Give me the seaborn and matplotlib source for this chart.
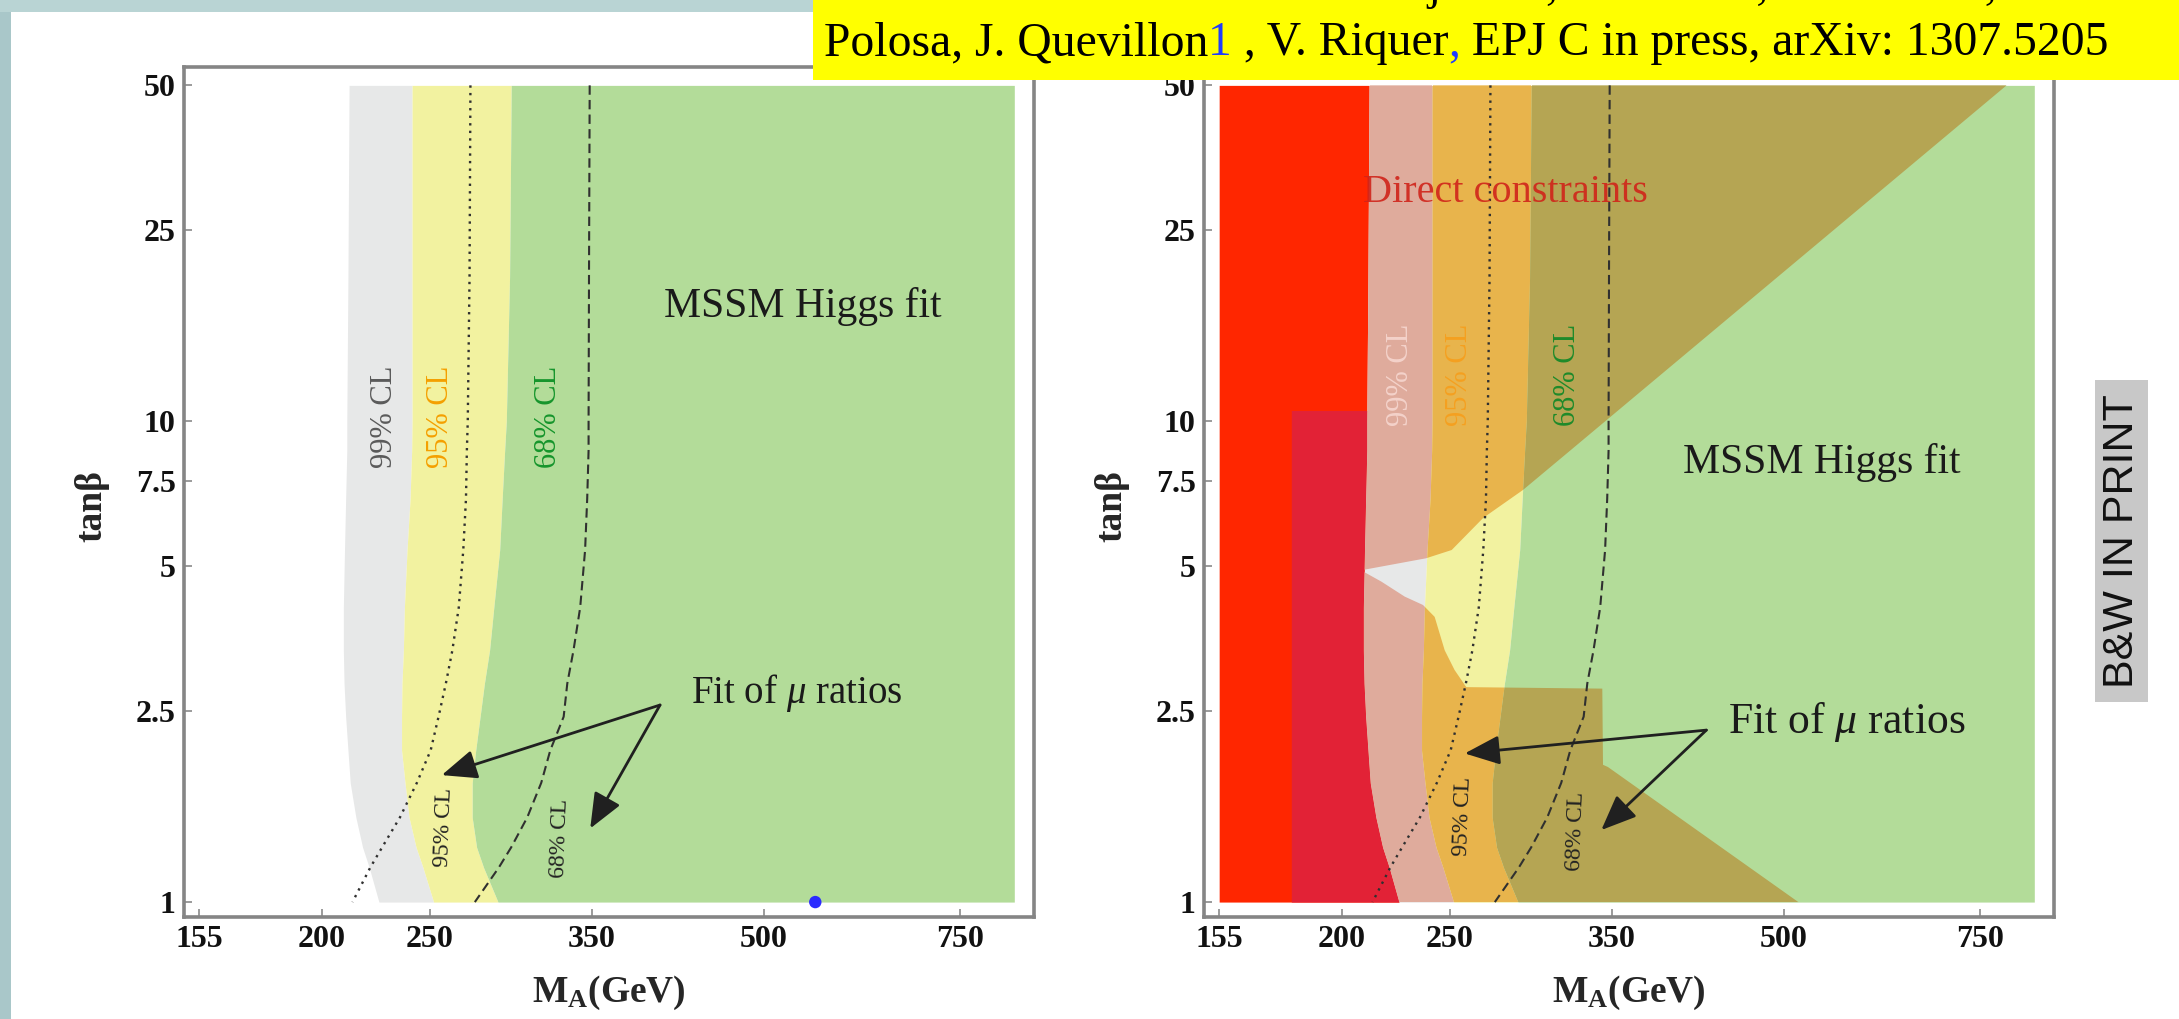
import numpy as np
import pandas as pd
import matplotlib
matplotlib.use("Agg")
import matplotlib.pyplot as plt
from matplotlib.patches import Polygon, Rectangle
import seaborn as sns

# ---------------------------------------------------------------- data
# tan(beta) grid shared by all contour boundaries (top to bottom)
TANB = [50, 20, 10, 8.7, 6.9, 5.4, 4.1, 3.34, 2.85, 2.43, 2.07, 1.77, 1.5, 1.3, 1.18, 1.0]

# M_A (GeV) where each confidence-level band starts, along TANB
CL99_LOW = [211.5, 211, 210.5, 210.5, 210, 209.5, 209, 209, 209.3, 210, 211, 212, 214.5, 217.5, 220.5, 225]
CL95_LOW = [241, 241, 241, 240.8, 240, 238.5, 237.2, 236.7, 236, 235.8, 235.8, 237.5, 239.5, 243, 246.5, 252]
CL68_LOW = [296, 295, 293, 292, 290.5, 289, 285.5, 283, 280, 277.5, 275, 273, 273, 275.5, 279.5, 288]
SCAN_MAX = 840  # upper end of the scanned M_A range

# contours of the fit of mu ratios
MU95 = [272, 271.5, 270.5, 270, 269.5, 268, 265.5, 262, 258.5, 254.6, 250.5, 243.4, 235, 226.5, 221, 213]
MU68 = [348.3, 347.8, 347.5, 347.5, 346.5, 345, 341.5, 336.8, 332.5, 330, 321, 315, 306, 296, 288.5, 274.5]

# outline of the region excluded by direct searches (M_A, tan beta)
EXCL_M = [155, 793, 321, 291, 268, 251, 238, 208, 217, 227.7, 236.5, 242.3, 247.4,
          252.5, 258.7, 343, 343.5, 347, 515, 155]
EXCL_TB = [50, 50, 8.7, 7.2, 6.3, 5.4, 5.19, 4.90, 4.64, 4.32, 4.15, 3.92, 3.34,
           3.04, 2.80, 2.78, 1.93, 1.91, 1.0, 1.0]
LEP_M = 180      # lower-tan(beta) direct limit block starts here
LEP_TB = 10.5    # and reaches up to this tan(beta)

BEST_FIT = (556, 1.0)

X_TICKS = [155, 200, 250, 350, 500, 750]
Y_TICKS = [1, 2.5, 5, 7.5, 10, 25, 50]
Y_TICK_LABELS = ["1", "2.5", "5", "7.5", "10", "25", "50"]

HEADER_TOP = "A. Djouadi, L. Maiani, G. Moreau, A."
HEADER_PARTS = [("Polosa, J. Quevillon", "black"), ("1", "#1f3cff"),
                (" , V. Riquer", "black"), (",", "#1f3cff"),
                (" EPJ C in press, arXiv: 1307.5205", "black")]

# ---------------------------------------------------------------- style
GRAY = "#e7e8e8"
YELLOW = "#f2f2a0"
GREEN = "#b3dc99"
PINK = "#dfab9c"
ORANGE = "#e8b44c"
OLIVE = "#b5a553"
RED = "#ff2600"
CRIMSON = "#e22236"

sns.set_theme(style="white")
plt.rcParams["font.family"] = ["Liberation Serif", "DejaVu Serif"]
plt.rcParams["mathtext.fontset"] = "custom"
plt.rcParams["mathtext.rm"] = "Liberation Serif"
plt.rcParams["mathtext.it"] = "Liberation Serif:italic"
plt.rcParams["mathtext.bf"] = "Liberation Serif:bold"

W, H = 2179, 1019
fig = plt.figure(figsize=(W / 100, H / 100), dpi=100)
fig.patch.set_facecolor("white")

XLIM = (150.2, 875)
YLIM = (0.931, 54.6)


def px_rect(x0, y0, x1, y1):
    """Figure-fraction rectangle from pixel corners (y measured from top)."""
    return [x0 / W, 1 - y1 / H, (x1 - x0) / W, (y1 - y0) / H]


def setup_axes(ax):
    ax.set_xscale("log")
    ax.set_yscale("log")
    ax.set_xlim(*XLIM)
    ax.set_ylim(*YLIM)
    ax.set_xticks(X_TICKS)
    ax.set_xticklabels([str(v) for v in X_TICKS])
    ax.set_yticks(Y_TICKS)
    ax.set_yticklabels(Y_TICK_LABELS)
    ax.minorticks_off()
    ax.tick_params(direction="in", length=6, width=1.2, color="#8a8a8a",
                   labelsize=23, pad=6, labelcolor="#111111",
                   top=False, right=False, left=True, bottom=True)
    for lbl in ax.get_xticklabels() + ax.get_yticklabels():
        lbl.set_fontweight("bold")
    for sp in ax.spines.values():
        sp.set_visible(True)
        sp.set_color("#858585")
        sp.set_linewidth(2.6)
    ax.set_xlabel(r"$\mathbf{M_A}$(GeV)", fontsize=27, fontweight="bold")
    ax.xaxis.set_label_coords(0.5, -0.0894)
    ax.xaxis.label.set_va("center")
    ax.set_ylabel("tanβ", fontsize=27, fontweight="bold")
    ax.yaxis.set_label_coords(-0.108, 0.483)
    ax.yaxis.label.set_va("center")
    ax.set_facecolor("white")


def draw_bands(ax):
    ax.fill_betweenx(TANB, CL99_LOW, CL95_LOW, color=GRAY, lw=0, zorder=1)
    ax.fill_betweenx(TANB, CL95_LOW, CL68_LOW, color=YELLOW, lw=0, zorder=1)
    ax.fill_betweenx(TANB, CL68_LOW, SCAN_MAX, color=GREEN, lw=0, zorder=1)


def draw_mu_fit(ax, lab95, lab68, arrow_from, tip95, tip68, text_xy, text_size):
    df = pd.DataFrame({"tanb": TANB, "mu95": MU95, "mu68": MU68})
    sns.lineplot(data=df, x="mu95", y="tanb", orient="y", sort=False, estimator=None,
                 ax=ax, color="#303030", lw=1.7, linestyle=(0, (1, 2.2)), zorder=4)
    sns.lineplot(data=df, x="mu68", y="tanb", orient="y", sort=False, estimator=None,
                 ax=ax, color="#303030", lw=1.5, linestyle=(0, (4.5, 2.5)), zorder=4)
    ax.text(*lab95, "95% CL", rotation=88, fontsize=17, ha="center", va="center",
            color="#222222", zorder=5)
    ax.text(*lab68, "68% CL", rotation=88, fontsize=17, ha="center", va="center",
            color="#222222", zorder=5)
    for tip in (tip95, tip68):
        ax.annotate("", xy=tip, xytext=arrow_from,
                    arrowprops=dict(arrowstyle="-|>,head_length=0.6,head_width=0.25",
                                    color="#202020", lw=2.0, mutation_scale=36,
                                    shrinkA=0, shrinkB=0), zorder=6)
    ax.text(*text_xy, r"Fit of $\mu$ ratios", fontsize=text_size, ha="left",
            va="center", color="#1a1a1a", zorder=6)


def cl_labels(ax, xs, y, colors):
    for x, txt, c in zip(xs, ["99% CL", "95% CL", "68% CL"], colors):
        ax.text(x, y, txt, rotation=90, fontsize=22, ha="center", va="center",
                color=c, zorder=5)


# ---------------------------------------------------------------- left panel
axL = fig.add_axes(px_rect(184, 67, 1034, 917))
setup_axes(axL)
draw_bands(axL)
cl_labels(axL, [227.4, 255.6, 319.6], 10.2, ["#5a5a5a", "#f5a000", "#16952c"])
axL.text(406, 17.3, "MSSM Higgs fit", fontsize=30, ha="left", va="center",
         color="#1a1a1a", zorder=5)
draw_mu_fit(axL, (257.2, 1.43), (327.6, 1.36), (403, 2.57), (256.3, 1.837),
            (348.7, 1.423), (430, 2.72), 28)
sns.scatterplot(x=[BEST_FIT[0]], y=[BEST_FIT[1]], ax=axL, color="#2b2bff", s=80,
                edgecolor="none", zorder=7)

# ---------------------------------------------------------------- right panel
axR = fig.add_axes(px_rect(1204, 67, 2054, 917))
setup_axes(axR)
draw_bands(axR)

# direct-search limits to the left of the 99% CL band
axR.fill_betweenx(TANB, 155, CL99_LOW, color=RED, lw=0, zorder=2)
lep = axR.fill_betweenx(TANB, LEP_M, CL99_LOW, color=CRIMSON, lw=0, zorder=2)
lep.set_clip_path(Rectangle((LEP_M, 1.0), 200, LEP_TB - 1.0, transform=axR.transData))

# fit bands inside the excluded region
excl = Polygon(np.column_stack([EXCL_M, EXCL_TB]), closed=True, transform=axR.transData)
for lo, hi, col in [(CL99_LOW, CL95_LOW, PINK), (CL95_LOW, CL68_LOW, ORANGE),
                    (CL68_LOW, SCAN_MAX, OLIVE)]:
    band = axR.fill_betweenx(TANB, lo, hi, color=col, lw=0, zorder=2)
    band.set_clip_path(excl)

cl_labels(axR, [225.7, 255.1, 318.8], 12.5, ["#f4d2ca", "#f5a020", "#1e8a2a"])
axR.text(209, 30, "Direct constraints", fontsize=29, ha="left", va="center",
         color="#d0241a", alpha=0.9, zorder=5)
axR.text(405.8, 8.23, "MSSM Higgs fit", fontsize=30, ha="left", va="center",
         color="#1a1a1a", zorder=5)
draw_mu_fit(axR, (256.9, 1.51), (325, 1.406), (425.6, 2.279), (257.9, 2.038),
            (342.3, 1.412), (445, 2.37), 31.5)

# ---------------------------------------------------------------- page decoration
fig.patches.append(Rectangle((0, 0), 11 / W, 1, transform=fig.transFigure,
                             facecolor="#a9c7c9", edgecolor="none", zorder=8))
fig.patches.append(Rectangle((0, 1 - 12 / H), 813 / W, 12 / H, transform=fig.transFigure,
                             facecolor="#b9d4d4", edgecolor="none", zorder=8))
fig.patches.append(Rectangle((813 / W, 1 - 80 / H), 1 - 813 / W, 80 / H,
                             transform=fig.transFigure, facecolor="#ffff00",
                             edgecolor="none", zorder=9))

renderer = fig.canvas.get_renderer()
fig.text(1336 / W, 1 + 1 / H, HEADER_TOP, fontsize=34, ha="left", va="baseline",
         color="black", zorder=10)
xpos = 824
for part, col in HEADER_PARTS:
    t = fig.text(xpos / W, 1 - 55 / H, part, fontsize=34.3, ha="left", va="baseline",
                 color=col, zorder=10)
    xpos = t.get_window_extent(renderer=renderer).x1

fig.patches.append(Rectangle((2095 / W, 1 - 702 / H), 53 / W, 322 / H,
                             transform=fig.transFigure, facecolor="#c8c8c8",
                             edgecolor="none", zorder=9))
fig.text(2122 / W, 1 - 541 / H, "B&W IN PRINT", rotation=90, fontsize=31,
         family="Liberation Sans", ha="center", va="center", color="#111111", zorder=10)

fig.savefig("out.png", dpi=100)
